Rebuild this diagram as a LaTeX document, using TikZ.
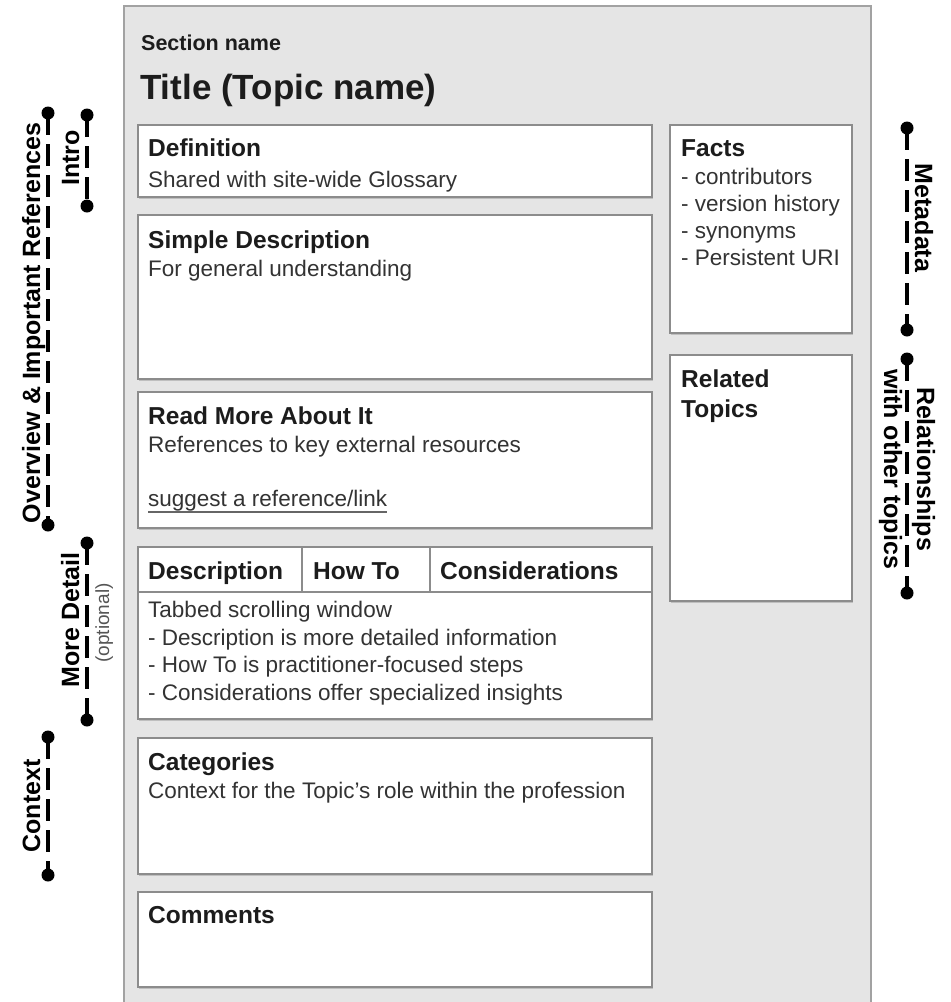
\documentclass[tikz,border=0pt]{standalone}
\usepackage{fontspec}
\setmainfont{Liberation Sans}
\usetikzlibrary{shadows}
\definecolor{panelfill}{HTML}{E5E5E5}
\definecolor{panelline}{HTML}{A2A2A2}
\definecolor{boxline}{HTML}{8C8C8C}
\definecolor{headtxt}{HTML}{1C1C1C}
\definecolor{bodytxt}{HTML}{333333}
\definecolor{optgray}{HTML}{555555}
\newcommand\myHd{\fontsize{24.5}{29}\selectfont\bfseries}
\newcommand\myBd{\fontsize{22.5}{27}\selectfont}
\newcommand\mySide{\fontsize{25}{30}\selectfont\bfseries}
\newcommand\myOpt{\fontsize{19}{22}\selectfont}
\newcommand\myTitle{\fontsize{35}{40}\selectfont\bfseries}
\newcommand\mySec{\fontsize{21.5}{26}\selectfont\bfseries}
\begin{document}
\begin{tikzpicture}[x=1pt,y=-1pt,
  box/.style={draw=boxline, line width=1.8pt, fill=white, rectangle, inner sep=0pt, outer sep=0pt, anchor=north west,
    drop shadow={shadow xshift=1.2pt, shadow yshift=-1.6pt, fill=black!35, opacity=0.6}},
  boxl/.style={draw=boxline, line width=1.8pt},
  hd/.style={anchor=base west, inner sep=0pt, font=\myHd, text=headtxt},
  bd/.style={anchor=base west, inner sep=0pt, font=\myBd, text=bodytxt},
  side/.style={anchor=base, inner sep=0pt, font=\mySide, text=black},
  optl/.style={anchor=base, inner sep=0pt, font=\myOpt, text=optgray},
  mk/.style={line width=3.4pt, dash pattern=on 22pt off 9pt},
  dotc/.style={circle, fill=black, minimum size=13pt, inner sep=0pt}]
\useasboundingbox (0,0) rectangle (951,1002);
\fill[white] (0,0) rectangle (951,1002);
% main panel
\path[fill=panelfill, draw=panelline, line width=2.5pt] (124,1012) -- (124,6) -- (871,6) -- (871,1012);
\node[anchor=base west, inner sep=0pt, font=\mySec, text=headtxt] (sec) at (141,50) {Section name};
\node[anchor=base west, inner sep=0pt, font=\myTitle, text=headtxt] (ttl) at (140,99) {Title (Topic name)};
% left column boxes
\node[box, minimum width=514pt, minimum height=72pt] (def) at (138,125) {};
\node[box, minimum width=514pt, minimum height=164pt] (simp) at (138,215) {};
\node[box, minimum width=514pt, minimum height=136pt] (read) at (138,392) {};
\node[box, minimum width=514pt, minimum height=172pt] (tabs) at (138,547) {};
\node[box, minimum width=514pt, minimum height=136pt] (cat) at (138,738) {};
\node[box, minimum width=514pt, minimum height=95pt] (com) at (138,892) {};
% right column boxes
\node[box, minimum width=182pt, minimum height=208pt] (facts) at (670,125) {};
\node[box, minimum width=182pt, minimum height=246pt] (rel) at (670,355) {};
% tab row
\draw[boxl] ([yshift=-45pt]tabs.north west) -- ([yshift=-45pt]tabs.north east);
\draw[boxl] ([xshift=164pt]tabs.north west) -- ([xshift=164pt,yshift=-45pt]tabs.north west);
\draw[boxl] ([xshift=292pt]tabs.north west) -- ([xshift=292pt,yshift=-45pt]tabs.north west);
% texts
\node[hd] (defH) at (148,156) {Definition};
\node[bd] (defB) at (148,187) {Shared with site-wide Glossary};
\node[hd] (simpH) at (148,248) {Simple Description};
\node[bd] (simpB) at (148,276) {For general understanding};
\node[hd] (readH) at (148,424) {Read More About It};
\node[bd] (readB) at (148,452) {References to key external resources};
\node[bd] (lnk) at (148,506) {suggest a reference/link};
\draw[draw=black!60, line width=2.2pt] ([yshift=-6pt]lnk.base west) -- ([yshift=-6pt]lnk.base east);
\node[hd] (tabA) at (148,579) {Description};
\node[hd] (tabB) at (313,579) {How To};
\node[hd] (tabC) at (440,579) {Considerations};
\node[bd] (tabL1) at (148,617) {Tabbed scrolling window};
\node[bd] (tabL2) at (148,645) {- Description is more detailed information};
\node[bd] (tabL3) at (148,672) {- How To is practitioner-focused steps};
\node[bd] (tabL4) at (148,700) {- Considerations offer specialized insights};
\node[hd] (catH) at (148,770) {Categories};
\node[bd] (catB) at (148,798) {Context for the Topic’s role within the profession};
\node[hd] (comH) at (148,923) {Comments};
\node[hd] (factsH) at (681,156) {Facts};
\node[bd] (factsL1) at (681,184) {- contributors};
\node[bd] (factsL2) at (681,211) {- version history};
\node[bd] (factsL3) at (681,238) {- synonyms};
\node[bd] (factsL4) at (681,265) {- Persistent URI};
\node[hd] (relH1) at (681,387) {Related};
\node[hd] (relH2) at (681,417) {Topics};
% left markers
\node[dotc] (ovA) at (48,113) {};
\node[dotc] (ovB) at (48,525) {};
\draw[mk] (ovA.center) -- (ovB.center);
\node[side, rotate=90] (ovL) at (40,323) {Overview \& Important References};
\node[dotc] (inA) at (87,115) {};
\node[dotc] (inB) at (87,206) {};
\draw[mk] (inA.center) -- (inB.center);
\node[side, rotate=90] (inL) at (79,158) {Intro};
\node[dotc] (mdA) at (87,543) {};
\node[dotc] (mdB) at (87,720) {};
\draw[mk] (mdA.center) -- (mdB.center);
\node[side, rotate=90] (mdL) at (79,620) {More Detail};
\node[optl, rotate=90] (mdO) at (109,623) {(optional)};
\node[dotc] (cxA) at (48,737) {};
\node[dotc] (cxB) at (48,875) {};
\draw[mk] (cxA.center) -- (cxB.center);
\node[side, rotate=90] (cxL) at (40,806) {Context};
% right markers
\node[dotc] (mtA) at (907,128) {};
\node[dotc] (mtB) at (907,330) {};
\draw[mk] (mtA.center) -- (mtB.center);
\node[side, rotate=-90] (mtL) at (915,218) {Metadata};
\node[dotc] (rlA) at (907,359) {};
\node[dotc] (rlB) at (907,593) {};
\draw[mk] (rlA.center) -- (rlB.center);
\node[side, rotate=-90] (rlL1) at (917,469) {Relationships};
\node[side, rotate=-90] (rlL2) at (884,469) {with other topics};
\end{tikzpicture}
\end{document}
